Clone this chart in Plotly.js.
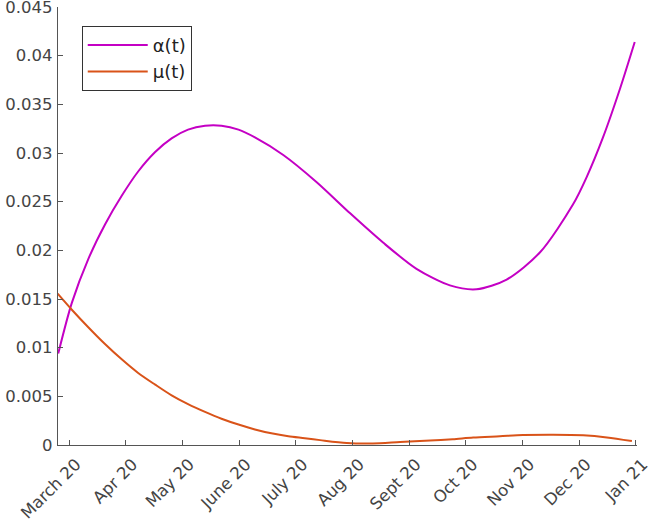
<!DOCTYPE html>
<html>
<head>
<meta charset="utf-8">
<script src="https://cdn.plot.ly/plotly-3.0.1.min.js"></script>
<style>html,body{margin:0;padding:0;background:#fff;}#chart{width:648px;height:520px;}</style>
</head>
<body>
<div id="chart"></div>
<script>
// x in months after March 2020 (0 = March 20, 10 = Jan 21)
const monthLabels = ['March 20','Apr 20','May 20','June 20','July 20','Aug 20','Sept 20','Oct 20','Nov 20','Dec 20','Jan 21'];
const monthPositions = [0,1,2,3,4,5,6,7,8,9,10];

const alphaX = [-0.19, 0.05, 0.34, 0.64, 0.93, 1.22, 1.52, 1.81, 2.10, 2.40, 2.69, 2.99, 3.28, 3.78, 4.37, 4.96, 5.54, 6.13, 6.72, 7.19, 7.72, 8.31, 8.89, 9.13, 9.42, 9.72, 9.98];
const alphaY = [0.0094, 0.0146, 0.0191, 0.0227, 0.0256, 0.0281, 0.0301, 0.0315, 0.0324, 0.0328, 0.0328, 0.0324, 0.0316, 0.0298, 0.0270, 0.0238, 0.0208, 0.0181, 0.0164, 0.0160, 0.0170, 0.0198, 0.0247, 0.0275, 0.0316, 0.0366, 0.0414];

const muX = [-0.20, 0.05, 0.34, 0.63, 0.93, 1.22, 1.52, 1.81, 2.10, 2.40, 2.69, 2.99, 3.28, 3.57, 3.87, 4.16, 4.43, 4.90, 5.36, 5.84, 6.37, 6.77, 7.13, 7.60, 8.01, 8.54, 9.07, 9.49, 9.93];
const muY = [0.01555, 0.0139, 0.0121, 0.0104, 0.0088, 0.0074, 0.0062, 0.0051, 0.0042, 0.0034, 0.0027, 0.0021, 0.0016, 0.0012, 0.0009, 0.0007, 0.0005, 0.0002, 0.00015, 0.0003, 0.00046, 0.0006, 0.00077, 0.0009, 0.00102, 0.00106, 0.0010, 0.00078, 0.0004];

const yTickVals = [0, 0.005, 0.01, 0.015, 0.02, 0.025, 0.03, 0.035, 0.04, 0.045];
const yTickText = ['0','0.005','0.01','0.015','0.02','0.025','0.03','0.035','0.04','0.045'];

const traces = [
  {x: alphaX, y: alphaY, type: 'scatter', mode: 'lines', name: 'α(t)',
   line: {color: '#C400C4', width: 2, shape: 'spline', smoothing: 0.8}},
  {x: muX, y: muY, type: 'scatter', mode: 'lines', name: 'μ(t)',
   line: {color: '#D95319', width: 2, shape: 'spline', smoothing: 0.8}}
];

const axisColor = '#555555';
const tickFont = {family: 'DejaVu Sans', size: 16.5, color: '#444444'};
const layout = {
  width: 648, height: 520,
  margin: {l: 58, r: 11, t: 7, b: 75, pad: 0},
  paper_bgcolor: '#ffffff', plot_bgcolor: '#ffffff',
  font: {family: 'DejaVu Sans', size: 16.5, color: '#444444'},
  showlegend: true,
  legend: {x: 0.041, y: 0.957, xanchor: 'left', yanchor: 'top', itemwidth: 60,
           bgcolor: '#ffffff', bordercolor: '#333333', borderwidth: 1,
           font: {family: 'DejaVu Sans', size: 18, color: '#222222'}},
  xaxis: {range: [-0.194, 10.02], tickvals: monthPositions, ticktext: monthLabels,
          tickangle: -45, ticks: 'inside', ticklen: 5, tickcolor: axisColor,
          showline: true, linecolor: axisColor, linewidth: 1.3, showgrid: false, zeroline: false,
          tickfont: tickFont, ticklabelstandoff: 2, ticklabelshift: 7, ticklabeloverflow: 'allow'},
  yaxis: {range: [0, 0.045], tickvals: yTickVals, ticktext: yTickText,
          ticks: 'inside', ticklen: 5, tickcolor: axisColor,
          showline: true, linecolor: axisColor, linewidth: 1.3, showgrid: false, zeroline: false,
          tickfont: tickFont, ticklabelstandoff: 1, ticklabeloverflow: 'allow'}
};

Plotly.newPlot('chart', traces, layout, {displayModeBar: false, staticPlot: true});
</script>
</body>
</html>
